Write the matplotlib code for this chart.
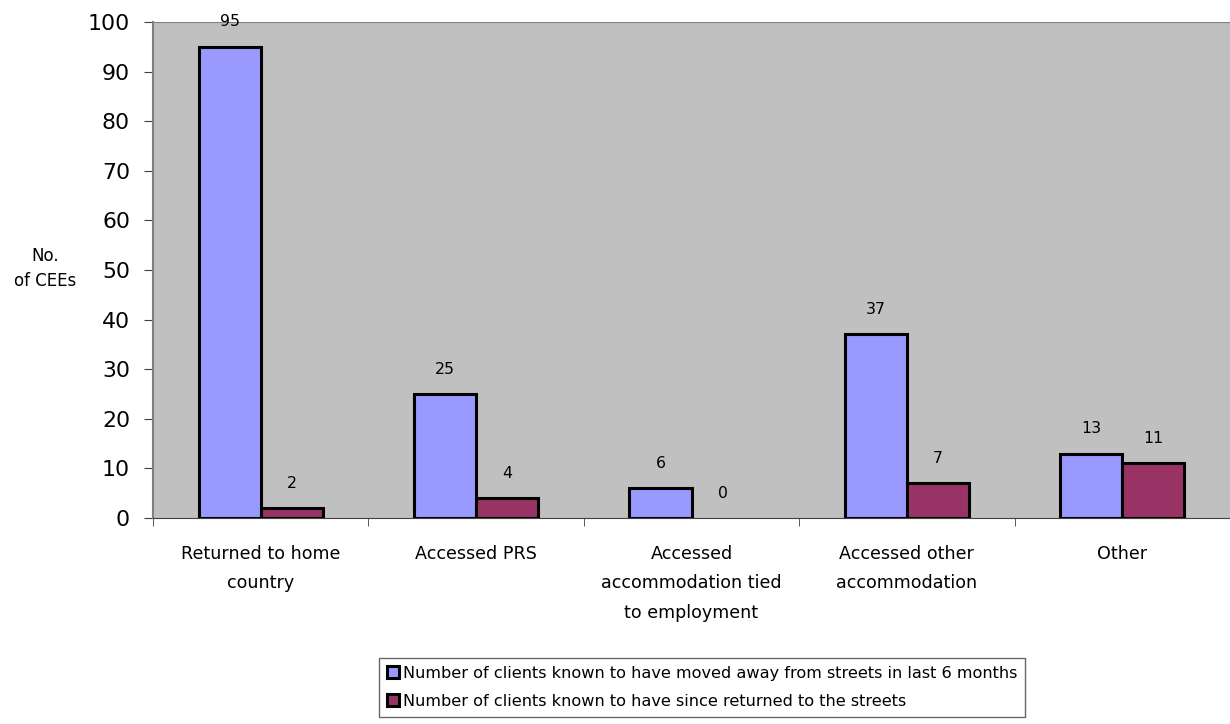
import matplotlib
matplotlib.use("Agg")
import matplotlib.pyplot as plt
import numpy as np

categories = ["Returned to home\ncountry", "Accessed PRS",
              "Accessed\naccommodation tied\nto employment",
              "Accessed other\naccommodation", "Other"]
moved_away = [95, 25, 6, 37, 13]
returned = [2, 4, 0, 7, 11]
series_names = ["Number of clients known to have moved away from streets in last 6 months",
                "Number of clients known to have since returned to the streets"]

plt.rcParams['font.family'] = ['DejaVu Sans']

fig = plt.figure(figsize=(12.3, 7.24), dpi=100)
ax = fig.add_axes([0.1244, 0.2845, 0.8756, 0.6851])
ax.set_facecolor("#C0C0C0")

x = np.arange(len(categories))
w = 0.288
b1 = ax.bar(x - w / 2, moved_away, w, color="#9999FF", edgecolor="black", linewidth=2.2,
            label=series_names[0])
b2 = ax.bar(x + w / 2, returned, w, color="#993366", edgecolor="black", linewidth=2.2,
            label=series_names[1])
# zero-height bars show no outline
for r, v in zip(b2, returned):
    if v == 0:
        r.set_linewidth(0)

for bars, vals in ((b1, moved_away), (b2, returned)):
    for r, v in zip(bars, vals):
        ax.text(r.get_x() + r.get_width() / 2, v + 3.5, str(v), ha="center", va="bottom",
                fontsize=11.3)

ax.set_xlim(-0.5, len(categories) - 0.5)
ax.set_ylim(0, 100)
ax.set_yticks(range(0, 101, 10))
ax.tick_params(axis="y", labelsize=15.8, length=6.5, pad=10, direction="out", color="#404040")
ax.set_xticks(x)
ax.set_xticklabels(categories, fontsize=12.6, linespacing=1.8)
ax.set_xticks(np.arange(-0.5, len(categories), 1), minor=True)
ax.tick_params(axis="x", which="major", length=0, pad=19.5)
ax.tick_params(axis="x", which="minor", length=6, color="#404040")

for s in ["top", "right"]:
    ax.spines[s].set_visible(False)
ax.spines["left"].set_color("#808080")
ax.spines["left"].set_linewidth(1.5)
ax.spines["bottom"].set_color("#404040")
ax.axhline(100, color="#808080", linewidth=1.5)

fig.text(0.037, 0.629, "No.\nof CEEs", ha="center", va="center", fontsize=12, linespacing=1.5)

leg = fig.legend(loc="center", bbox_to_anchor=(0.571, 0.051), ncol=1, fontsize=11.6,
                 frameon=True, fancybox=False, edgecolor="#404040", handlelength=0.7,
                 handleheight=0.7, handletextpad=0.25, borderpad=0.5, labelspacing=0.8,
                 borderaxespad=0)
leg.get_frame().set_linewidth(1.0)

fig.savefig("out.png", dpi=100, facecolor="white")
